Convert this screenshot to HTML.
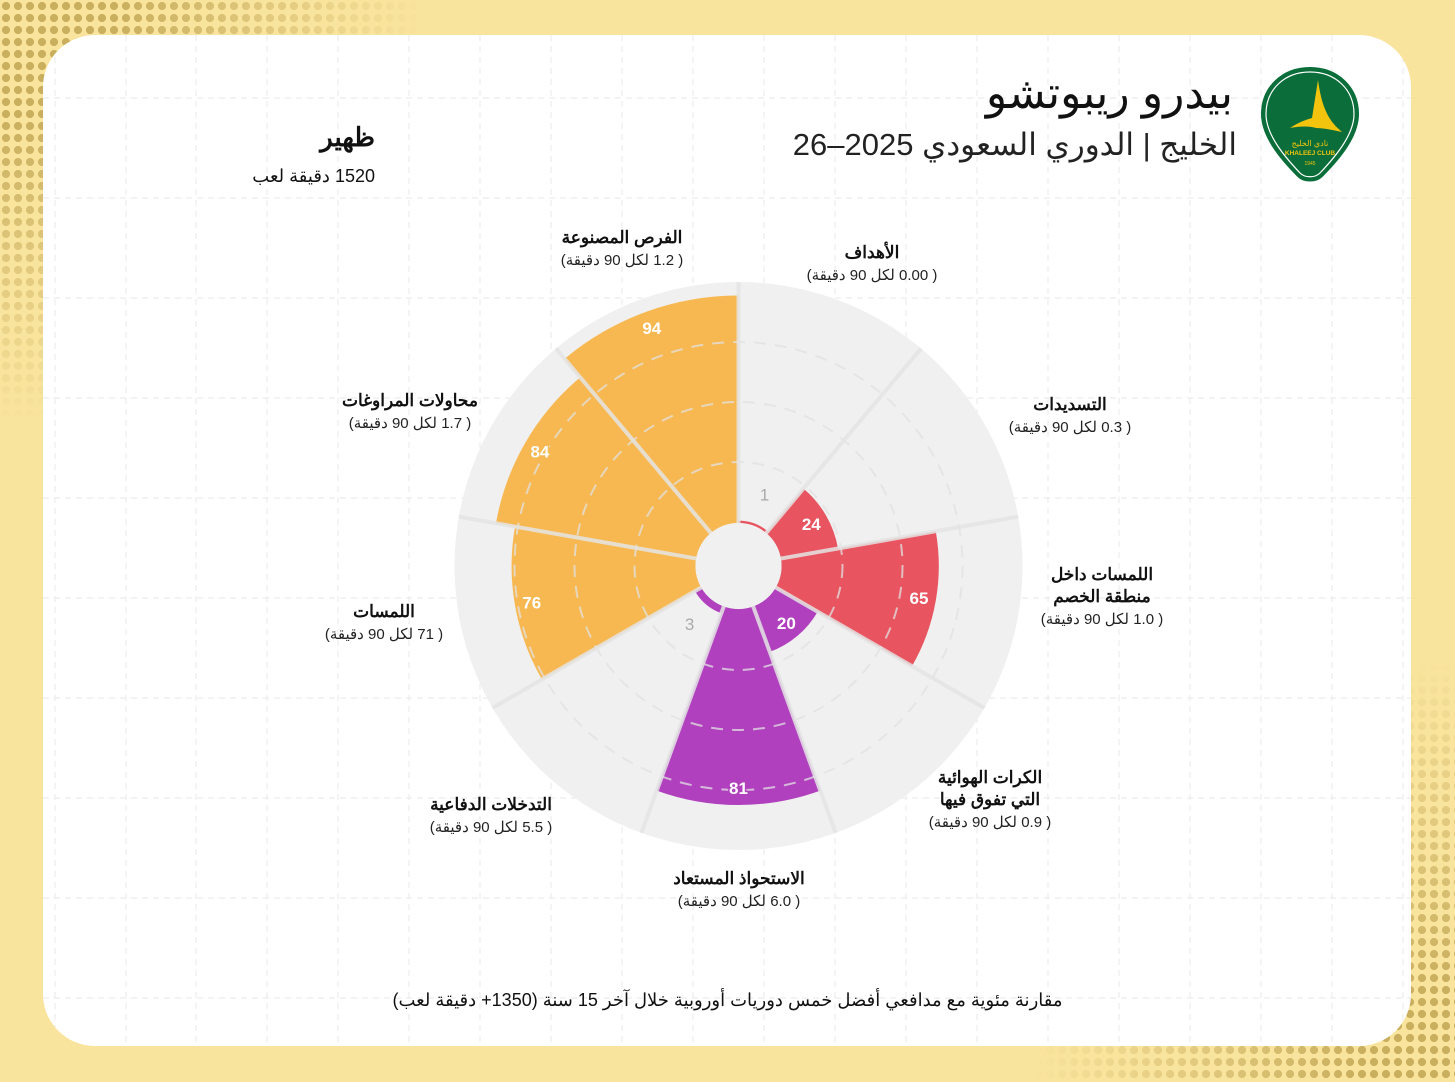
<!DOCTYPE html>
<html><head><meta charset="utf-8"><style>
html,body{margin:0;padding:0}
body{width:1455px;height:1082px;position:relative;overflow:hidden;background:#F9E49D;font-family:"Liberation Sans","Noto Sans CJK SC",sans-serif}
.dots{position:absolute;inset:0;background-image:radial-gradient(circle,#C9AE5E 45%,transparent 50%);background-size:12px 12px;}
.d1{-webkit-mask-image:radial-gradient(circle at 0 0,#000 0,#000 120px,transparent 420px);mask-image:radial-gradient(circle at 0 0,#000 0,#000 120px,transparent 420px)}
.d2{-webkit-mask-image:radial-gradient(circle at 100% 100%,#000 0,#000 100px,transparent 420px);mask-image:radial-gradient(circle at 100% 100%,#000 0,#000 100px,transparent 420px)}
.card{position:absolute;left:43px;top:35px;width:1368px;height:1011px;border-radius:52px;background:#fff;overflow:hidden}
.t{position:absolute;direction:rtl;white-space:nowrap;color:#111}
</style></head><body>
<div class="dots d1"></div><div class="dots d2"></div>
<div class="card">
<svg width="1368" height="1011" style="position:absolute;left:0;top:0">
<g stroke="#ececec" stroke-width="1.2" stroke-dasharray="6 5">
<line x1="12" y1="0" x2="12" y2="1011"/><line x1="83" y1="0" x2="83" y2="1011"/><line x1="153" y1="0" x2="153" y2="1011"/><line x1="224" y1="0" x2="224" y2="1011"/><line x1="295" y1="0" x2="295" y2="1011"/><line x1="366" y1="0" x2="366" y2="1011"/><line x1="437" y1="0" x2="437" y2="1011"/><line x1="508" y1="0" x2="508" y2="1011"/><line x1="579" y1="0" x2="579" y2="1011"/><line x1="650" y1="0" x2="650" y2="1011"/><line x1="721" y1="0" x2="721" y2="1011"/><line x1="792" y1="0" x2="792" y2="1011"/><line x1="863" y1="0" x2="863" y2="1011"/><line x1="934" y1="0" x2="934" y2="1011"/><line x1="1005" y1="0" x2="1005" y2="1011"/><line x1="1076" y1="0" x2="1076" y2="1011"/><line x1="1147" y1="0" x2="1147" y2="1011"/><line x1="1218" y1="0" x2="1218" y2="1011"/><line x1="1289" y1="0" x2="1289" y2="1011"/><line x1="1360" y1="0" x2="1360" y2="1011"/>
<line x1="0" y1="63" x2="1368" y2="63"/><line x1="0" y1="163" x2="1368" y2="163"/><line x1="0" y1="263" x2="1368" y2="263"/><line x1="0" y1="363" x2="1368" y2="363"/><line x1="0" y1="463" x2="1368" y2="463"/><line x1="0" y1="563" x2="1368" y2="563"/><line x1="0" y1="663" x2="1368" y2="663"/><line x1="0" y1="763" x2="1368" y2="763"/><line x1="0" y1="863" x2="1368" y2="863"/><line x1="0" y1="963" x2="1368" y2="963"/>
</g></svg>
</div>
<svg id="ch" width="1455" height="1082" style="position:absolute;left:0;top:0"></svg>
<svg width="100" height="118" style="position:absolute;left:1260px;top:66px" viewBox="0 0 100 118">
<path d="M50 2 C78 2 98 22 98 48 C98 70 80 92 62 110 C56 116 44 116 38 110 C20 92 2 70 2 48 C2 22 22 2 50 2Z" fill="#0B6E3A" stroke="#0B6E3A" stroke-width="2"/>
<path d="M50 6 C76 6 94 24 94 48 C94 68 77 89 60 107 C55 112 45 112 40 107 C23 89 6 68 6 48 C6 24 24 6 50 6Z" fill="none" stroke="#fff" stroke-width="1.2"/>
<path d="M58 14 L52 52 C44 54 36 58 30 62 C40 60 50 60 56 62 C64 62 72 64 82 66 C70 56 62 44 58 14Z" fill="#F2C40E"/>
<text x="50" y="80" font-size="8" fill="#F2C40E" text-anchor="middle">نادي الخليج</text>
<text x="50" y="89" font-size="6.5" fill="#F2C40E" text-anchor="middle" font-weight="bold">KHALEEJ CLUB</text>
<text x="50" y="99" font-size="5" fill="#F2C40E" text-anchor="middle">1945</text>
</svg>
<div class="t" style="right:222px;top:68px;font-size:44px;">بيدرو ريبوتشو</div>
<div class="t" style="right:218px;top:127px;font-size:31px;color:#222">الخليج | الدوري السعودي 2025–26</div>
<div class="t" style="right:1080px;top:122px;font-size:26px;font-weight:bold">ظهير</div>
<div class="t" style="right:1080px;top:166px;font-size:18px;">1520 دقيقة لعب</div>
<div class="t" style="left:0;width:1455px;text-align:center;top:990px;font-size:18px;">مقارنة مئوية مع مدافعي أفضل خمس دوريات أوروبية خلال آخر 15 سنة (1350+ دقيقة لعب)</div>
<script>
const cx=738.5,cy=566,R=284,r0=43,k=242;
const data=[[1,'#E8545F'],[24,'#E8545F'],[65,'#E8545F'],[20,'#B040BE'],[81,'#B040BE'],[3,'#B040BE'],[76,'#F7B851'],[84,'#F7B851'],[94,'#F7B851']];
function pt(r,a){a=a*Math.PI/180;return [cx+r*Math.sin(a),cy-r*Math.cos(a)];}
function wedge(r1,r2,a1,a2,fill){const p1=pt(r2,a1),p2=pt(r2,a2),p3=pt(r1,a2),p4=pt(r1,a1);
return `<path d="M${p1} A${r2} ${r2} 0 0 1 ${p2} L${p3} A${r1} ${r1} 0 0 0 ${p4}Z" fill="${fill}"/>`;}
let s='';
s+=`<circle cx="${cx}" cy="${cy}" r="${R}" fill="#F0F0F0"/>`;
data.forEach((d,i)=>{s+=wedge(r0,r0+k*d[0]/100,i*40,i*40+40,d[1]);});
[104,164,224].forEach(r=>{s+=`<circle cx="${cx}" cy="${cy}" r="${r}" fill="none" stroke="rgba(225,225,225,0.75)" stroke-width="2" stroke-dasharray="12 9"/>`;});
for(let i=0;i<9;i++){const a=pt(r0,i*40),b=pt(R,i*40);s+=`<line x1="${a[0]}" y1="${a[1]}" x2="${b[0]}" y2="${b[1]}" stroke="rgba(228,228,228,0.85)" stroke-width="4"/>`;}
s+=`<circle cx="${cx}" cy="${cy}" r="${r0}" fill="#F0F0F0"/>`;
data.forEach((d,i)=>{const a=i*40+20;
 if(d[0]<10){const p=pt(76,a);s+=`<text x="${p[0]}" y="${p[1]+6}" font-size="17" fill="#aaa" text-anchor="middle" font-family="Liberation Sans">${d[0]}</text>`;}
 else{const p=pt(r0+k*d[0]/100-17,a);s+=`<text x="${p[0]}" y="${p[1]+6}" font-size="17" font-weight="bold" fill="#fff" stroke="${d[1]}" stroke-width="3" paint-order="stroke" text-anchor="middle" font-family="Liberation Sans">${d[0]}</text>`;}
});
const L=[[872,258,'الأهداف','( 0.00 لكل 90 دقيقة)'],[1070,410,'التسديدات','( 0.3 لكل 90 دقيقة)'],[1102,580,'اللمسات داخل|منطقة الخصم','( 1.0 لكل 90 دقيقة)'],[990,783,'الكرات الهوائية|التي تفوق فيها','( 0.9 لكل 90 دقيقة)'],[739,884,'الاستحواذ المستعاد','( 6.0 لكل 90 دقيقة)'],[491,810,'التدخلات الدفاعية','( 5.5 لكل 90 دقيقة)'],[384,617,'اللمسات','( 71 لكل 90 دقيقة)'],[410,406,'محاولات المراوغات','( 1.7 لكل 90 دقيقة)'],[622,243,'الفرص المصنوعة','( 1.2 لكل 90 دقيقة)']];
L.forEach(l=>{const lines=l[2].split('|');lines.forEach((t,j)=>{s+=`<text x="${l[0]}" y="${l[1]+j*22}" font-size="17" font-weight="bold" fill="#111" text-anchor="middle" direction="rtl" font-family="Liberation Sans, Noto Sans CJK SC, sans-serif">${t}</text>`;});
s+=`<text x="${l[0]}" y="${l[1]+lines.length*22}" font-size="15" fill="#222" text-anchor="middle" direction="rtl" font-family="Liberation Sans, Noto Sans CJK SC, sans-serif">${l[3]}</text>`;});
document.getElementById('ch').innerHTML=s;
</script>
</body></html>
